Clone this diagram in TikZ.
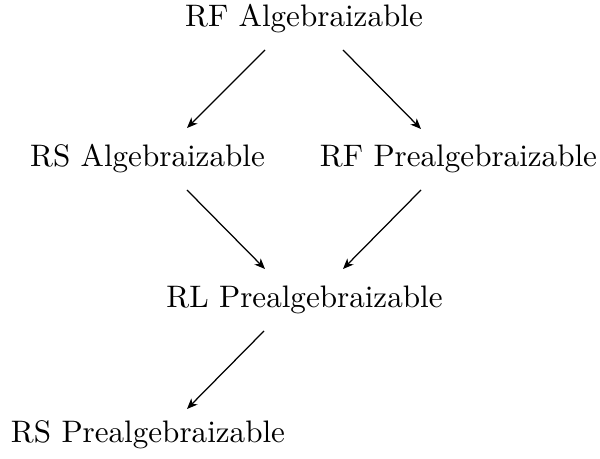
\documentclass[tikz,border=0pt]{standalone}
\usetikzlibrary{arrows.meta}
\begin{document}
\begin{tikzpicture}[x=0.32154pt, y=-0.32154pt,
  lbl/.style={anchor=base, inner sep=0pt},
  imp/.style={-{Stealth[length=3.4pt, width=2.8pt, inset=1pt]}, line width=0.4pt}]
\useasboundingbox (0,0) rectangle (600,459);
% the five properties, placed by their baselines
\node[lbl] (rfa) at (304,27)    {RF Algebraizable};
\node[lbl] (rsa) at (147.5,167) {RS Algebraizable};
\node[lbl] (rfp) at (458.5,167) {RF Prealgebraizable};
\node[lbl] (rlp) at (304.5,308) {RL Prealgebraizable};
\node[lbl] (rsp) at (148,443)   {RS Prealgebraizable};
% implications
\draw[imp] ([shift={(-39,23)}]rfa.base) -- ([shift={(39.5,-39)}]rsa.base);
\draw[imp] ([shift={(39,23)}]rfa.base) -- ([shift={(-37.5,-38)}]rfp.base);
\draw[imp] ([shift={(39.5,23)}]rsa.base) -- ([shift={(-39.5,-39)}]rlp.base);
\draw[imp] ([shift={(-37.5,23)}]rfp.base) -- ([shift={(38.5,-39)}]rlp.base);
\draw[imp] ([shift={(-40.5,23)}]rlp.base) -- ([shift={(39,-34)}]rsp.base);
\end{tikzpicture}
\end{document}
